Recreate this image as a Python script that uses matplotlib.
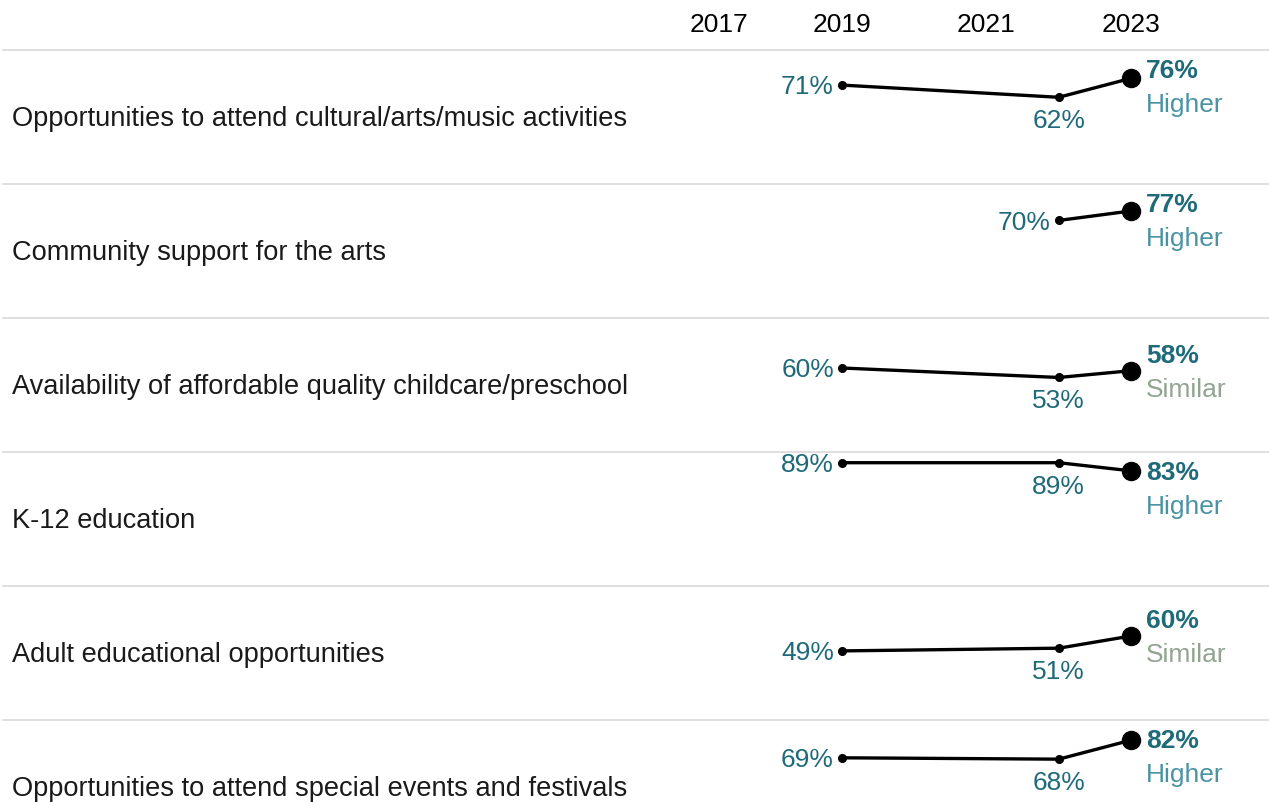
import matplotlib.pyplot as plt
import matplotlib.transforms as mtransforms

plt.rcParams["font.family"] = ["Liberation Sans", "DejaVu Sans"]

# rows of the chart, top to bottom
labels = [
    "Opportunities to attend cultural/arts/music activities",
    "Community support for the arts",
    "Availability of affordable quality childcare/preschool",
    "K-12 education",
    "Adult educational opportunities",
    "Opportunities to attend special events and festivals",
]
years = [2019, 2022, 2023]
v2019 = [71, None, 60, 89, 49, 69]
v2022 = [62, 70, 53, 89, 51, 68]
v2023 = [76, 77, 58, 83, 60, 82]
status = ["Higher", "Higher", "Similar", "Higher", "Similar", "Higher"]
header_years = [2017, 2019, 2021, 2023]

num_color = "#1f6a79"
status_colors = {"Higher": "#4a93a4", "Similar": "#93a392"}
fs = 19
label_fs = 19.6
PX = 0.72  # points per pixel at dpi 100

W, H = 1269, 802
fig = plt.figure(figsize=(W / 100, H / 100), dpi=100)

row_h = 134
first_top = 50
left_px = 3
# 2019 sits at x=842px, 72.25px per year
px_per_year = 72.25
xmin = 2019 - (842 - left_px) / px_per_year
xmax = 2019 + (W - 842) / px_per_year

axes = []
for i in range(len(labels)):
    top = first_top + row_h * i
    ax = fig.add_axes([left_px / W, (H - top - row_h) / H, (W - left_px) / W, row_h / H])
    ax.set_xlim(xmin, xmax)
    ax.set_ylim(-2, 96.9)
    ax.patch.set_alpha(0)
    for s in ["left", "right", "bottom"]:
        ax.spines[s].set_visible(False)
    ax.spines["top"].set_color("#d9d9d9")
    ax.spines["top"].set_linewidth(1.2)
    ax.set_xticks([])
    ax.set_yticks([])
    axes.append(ax)

    xs, ys = [], []
    for yr, v in zip(years, [v2019[i], v2022[i], v2023[i]]):
        if v is not None:
            xs.append(yr)
            ys.append(v)

    ax.plot(xs, ys, color="black", lw=2.4, clip_on=False, zorder=3)
    ax.plot(xs[:-1], ys[:-1], "o", color="black", ms=5.5, clip_on=False, zorder=4)
    ax.plot(xs[-1], ys[-1], "o", color="black", ms=13, clip_on=False, zorder=4)

    # value labels
    top_disp = ax.transAxes.transform((0, 1))[1]
    for j, (x, y) in enumerate(zip(xs, ys)):
        txt = f"{y}%"
        if j == len(xs) - 1:
            # label block centred on the point, but kept clear of the row's top line
            pt_off = top_disp - ax.transData.transform((x, y))[1]
            base_off = max(pt_off - 7.5, 28.5)
            dy = -(base_off - pt_off) * PX
            ax.annotate(txt, (x, y), xytext=(10.8, dy), textcoords="offset points",
                        ha="left", va="baseline", fontsize=fs, fontweight="bold",
                        color=num_color, annotation_clip=False)
            ax.annotate(status[i], (x, y), xytext=(10.8, dy - 33.5 * PX),
                        textcoords="offset points", ha="left", va="baseline",
                        fontsize=fs, color=status_colors[status[i]],
                        annotation_clip=False)
        elif j == 0:
            ax.annotate(txt, (x, y), xytext=(-5.8, -6.6), textcoords="offset points",
                        ha="right", va="baseline", fontsize=fs, color=num_color,
                        annotation_clip=False)
        else:
            ax.annotate(txt, (x, y), xytext=(0, -22.3), textcoords="offset points",
                        ha="center", va="baseline", fontsize=fs, color=num_color,
                        annotation_clip=False)

    ax.text((12 - left_px) / (W - left_px), 1 - 76 / row_h, labels[i],
            transform=ax.transAxes, ha="left", va="baseline", fontsize=label_fs,
            color="#1a1a1a")

# year header above first row
trans = mtransforms.blended_transform_factory(axes[0].transData, axes[0].transAxes)
for yr in header_years:
    xpos = yr + 0.3 if yr == header_years[0] else yr
    axes[0].text(xpos, 1 + 18 / row_h, str(yr), transform=trans, ha="center",
                 va="baseline", fontsize=fs, color="black")

fig.savefig("out.png", dpi=100)
